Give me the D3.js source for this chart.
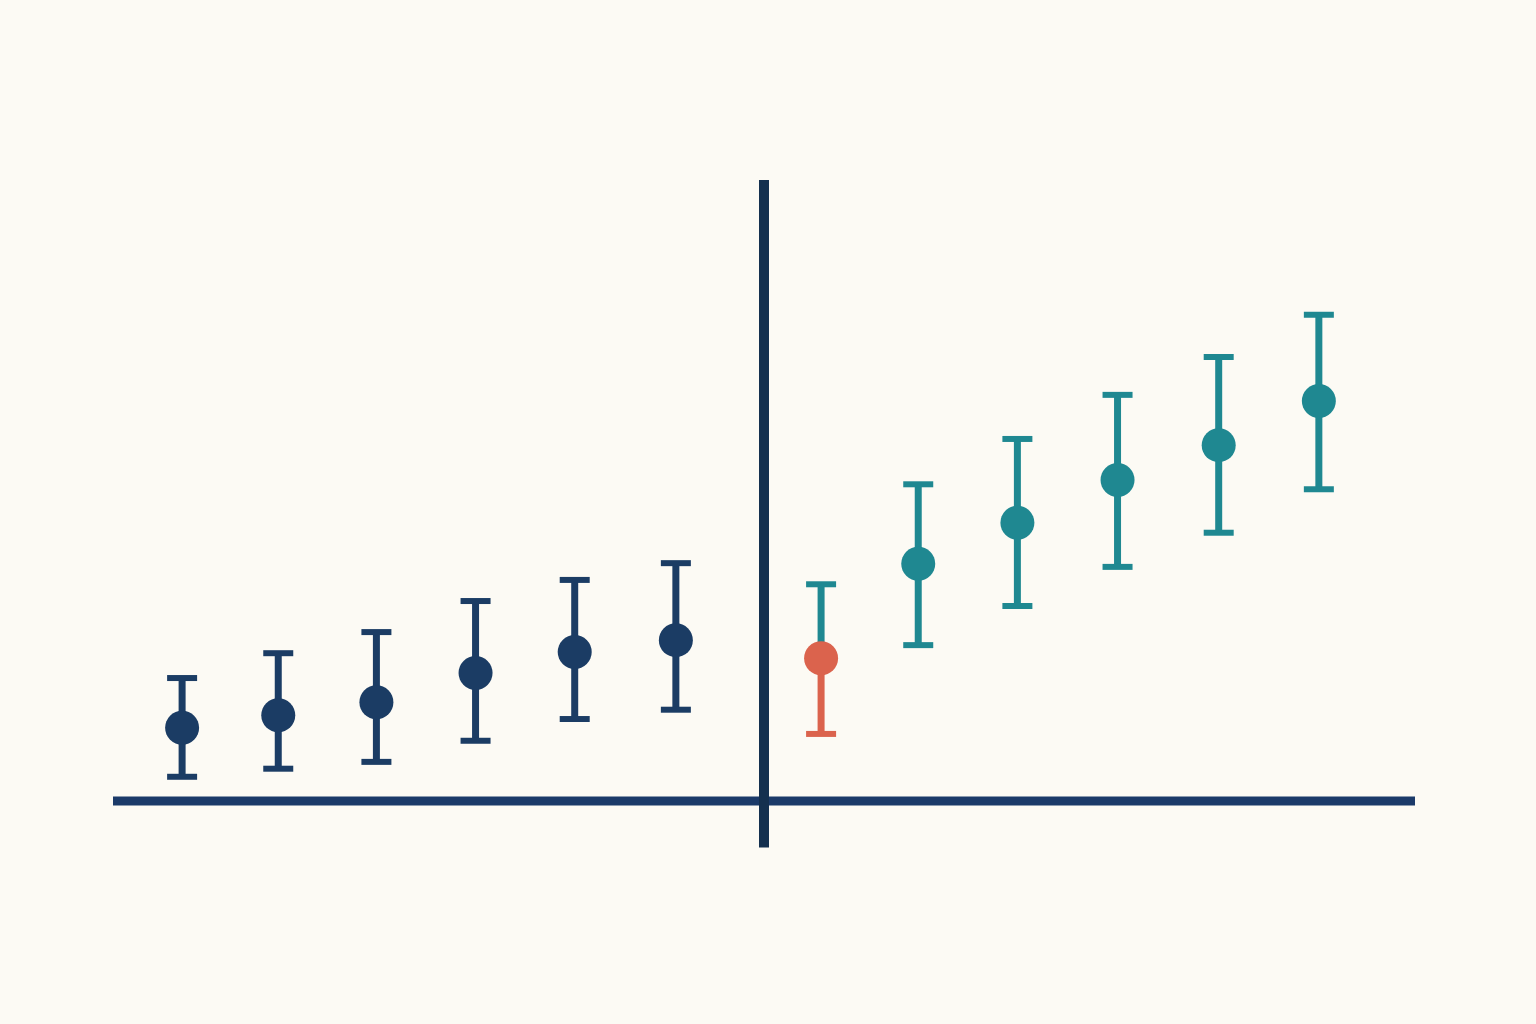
<!DOCTYPE html>
<meta charset="utf-8">
<head>
  <title>Error bar chart</title>
</head>

<style>
  html, body {
    margin: 0;
    padding: 0;
    background: #fcfaf4;
  }
  svg { display: block; }
</style>

<body>
<svg id="chart" width="1536" height="1024"></svg>

<script src="https://cdnjs.cloudflare.com/ajax/libs/d3/7.8.5/d3.min.js"></script>
<script>
  // data
  var xValues = [-5.81, -4.85, -3.87, -2.88, -1.89, -0.88, 0.57, 1.54, 2.53, 3.53, 4.54, 5.54];
  var means   = [1.18, 1.38, 1.59, 2.06, 2.40, 2.59, 2.30, 3.82, 4.48, 5.17, 5.73, 6.44];
  var upper   = [1.98, 2.38, 2.72, 3.22, 3.56, 3.83, 3.49, 5.10, 5.83, 6.54, 7.15, 7.83];
  var lower   = [0.39, 0.52, 0.63, 0.97, 1.32, 1.47, 1.08, 2.51, 3.14, 3.77, 4.32, 5.02];
  var groups  = ["before", "before", "before", "before", "before", "before",
                 "pivot", "after", "after", "after", "after", "after"];

  var colors = {
    before: "#1b3c64",
    pivot: "#db634d",
    after: "#1f8891"
  };

  var points = xValues.map(function(x, i) {
    return { x: x, mean: means[i], hi: upper[i], lo: lower[i], group: groups[i] };
  });

  var svg = d3.select('#chart');

  var x = d3.scaleLinear()
    .domain([-6.5, 6.5])
    .range([113, 1415]);

  var y = d3.scaleLinear()
    .domain([0, 10])
    .range([801, 180]);

  // axes
  svg.append('line')
    .attr('x1', x(-6.5)).attr('x2', x(6.5))
    .attr('y1', y(0)).attr('y2', y(0))
    .attr('stroke', '#1b3a69')
    .attr('stroke-width', 9);

  svg.append('line')
    .attr('x1', x(0)).attr('x2', x(0))
    .attr('y1', y(10)).attr('y2', y(-0.75))
    .attr('stroke', '#14304f')
    .attr('stroke-width', 10);

  var capHalf = 15;

  var g = svg.append('g').selectAll('g')
    .data(points)
    .enter()
    .append('g');

  // the pivot point keeps the "after" colour above its mean
  function upColor(d) {
    return d.group === 'pivot' ? colors.after : colors[d.group];
  }

  g.append('line')
    .attr('x1', function(d) { return x(d.x); })
    .attr('x2', function(d) { return x(d.x); })
    .attr('y1', function(d) { return y(d.hi); })
    .attr('y2', function(d) { return y(d.mean); })
    .attr('stroke', upColor)
    .attr('stroke-width', 7);

  g.append('line')
    .attr('x1', function(d) { return x(d.x); })
    .attr('x2', function(d) { return x(d.x); })
    .attr('y1', function(d) { return y(d.mean); })
    .attr('y2', function(d) { return y(d.lo); })
    .attr('stroke', function(d) { return colors[d.group]; })
    .attr('stroke-width', 7);

  g.append('line')
    .attr('x1', function(d) { return x(d.x) - capHalf; })
    .attr('x2', function(d) { return x(d.x) + capHalf; })
    .attr('y1', function(d) { return y(d.hi); })
    .attr('y2', function(d) { return y(d.hi); })
    .attr('stroke', upColor)
    .attr('stroke-width', 6);

  g.append('line')
    .attr('x1', function(d) { return x(d.x) - capHalf; })
    .attr('x2', function(d) { return x(d.x) + capHalf; })
    .attr('y1', function(d) { return y(d.lo); })
    .attr('y2', function(d) { return y(d.lo); })
    .attr('stroke', function(d) { return colors[d.group]; })
    .attr('stroke-width', 6);

  g.append('circle')
    .attr('cx', function(d) { return x(d.x); })
    .attr('cy', function(d) { return y(d.mean); })
    .attr('r', 17)
    .attr('fill', function(d) { return colors[d.group]; });
</script>
</body>
</html>
